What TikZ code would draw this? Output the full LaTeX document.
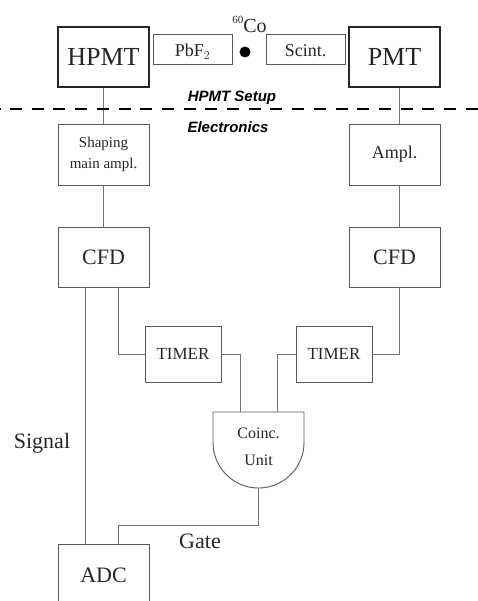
\documentclass[tikz,border=0pt]{standalone}
\usepackage{fontspec}
\setmainfont{Liberation Serif}
\newfontfamily\hsans{Liberation Sans}
\begin{document}
\begin{tikzpicture}[x=1pt,y=-1pt,
  box/.style={draw=black!65,line width=0.9pt,rectangle,inner sep=0pt,align=center,text=black!85},
  bigbox/.style={box,draw=black!85,line width=1.6pt},
  crystal/.style={box,minimum width=79pt,minimum height=30pt,text height=16pt,text depth=1pt,font=\fontsize{18}{18}\selectfont},
  wire/.style={draw=black!55,line width=1pt},
  lbl/.style={inner sep=0pt,text=black!85},
  sect/.style={inner sep=0pt,font=\hsans\bfseries\itshape\fontsize{15}{15}\selectfont}]
\useasboundingbox (0,0) rectangle (478,601);

% top row
\node[bigbox,minimum width=91pt,minimum height=60pt,font=\fontsize{26}{26}\selectfont] (hpmt) at (103.5,57) {HPMT};
\node[crystal] (pbf) at (192.5,49) {PbF$_2$};
\node[circle,fill=black,inner sep=0pt,minimum size=11pt] (src) at (245,52) {};
\node[lbl,font=\fontsize{20}{20}\selectfont] (co) at (249.5,24) {\raisebox{0.45em}{\fontsize{11}{11}\selectfont 60}Co};
\node[crystal] (scint) at (305.5,49) {Scint.};
\node[bigbox,minimum width=91pt,minimum height=60pt,font=\fontsize{26}{26}\selectfont] (pmt) at (394.5,57) {PMT};

% separator
\node[sect] (setup) at (232,98) {HPMT Setup};
\node[sect] (elec) at (228,127) {Electronics};
\coordinate (dl) at (0,109);
\coordinate (dr) at (478,109);

% electronics
\node[box,minimum width=91pt,minimum height=61pt,font=\fontsize{15}{21}\selectfont] (shape) at (103.5,154.5) {Shaping\\main ampl.};
\node[box,minimum width=91pt,minimum height=61pt,font=\fontsize{18}{18}\selectfont] (ampl) at (394.5,154.5) {Ampl.};
\node[box,minimum width=91pt,minimum height=60pt,font=\fontsize{22}{22}\selectfont] (cfdl) at (103.5,257) {CFD};
\node[box,minimum width=91pt,minimum height=60pt,font=\fontsize{22}{22}\selectfont] (cfdr) at (394.5,257) {CFD};
\node[box,minimum width=76pt,minimum height=56pt,font=\fontsize{17}{17}\selectfont] (tl) at (183,354) {TIMER};
\node[box,minimum width=76pt,minimum height=56pt,font=\fontsize{17}{17}\selectfont] (tr) at (334,354) {TIMER};

% coincidence unit
\draw[draw=black!65,line width=0.9pt] (213,412) -- (304,412) -- (304,442.5) arc (0:-180:45.5pt) -- cycle;
\node[lbl,align=center,font=\fontsize{16}{27}\selectfont] (coinc) at (258.5,447) {Coinc.\\Unit};
\coordinate (cin) at (258.5,412);
\coordinate (cout) at (258.5,488);

\node[box,minimum width=91pt,minimum height=62pt,font=\fontsize{22}{22}\selectfont] (adc) at (103.5,575) {ADC};
\node[lbl,font=\fontsize{22}{22}\selectfont] (sig) at (42,443) {Signal};
\node[lbl,font=\fontsize{22}{22}\selectfont] (gate) at (200,541) {Gate};

% connectors
\draw[wire] (hpmt) -- (shape);
\draw[wire] ([xshift=4.5pt]pmt.south) -- ([xshift=4.5pt]ampl.north);
\draw[wire] (shape) -- (cfdl);
\draw[wire] ([xshift=4.5pt]ampl.south) -- ([xshift=4.5pt]cfdr.north);
\draw[wire] ([xshift=-18.5pt]cfdl.south) -- ([xshift=-18.5pt]adc.north);
\draw[wire] ([xshift=14.5pt]cfdl.south) |- (tl.west);
\draw[wire] ([xshift=4.5pt]cfdr.south) |- (tr.east);
\draw[wire] (tl.east) -| ([xshift=-18.5pt]cin);
\draw[wire] (tr.west) -| ([xshift=18.5pt]cin);
\draw[wire] (cout) -- ++(0,37) -| ([xshift=14.5pt]adc.north);

\draw[line width=2.6pt,dash pattern=on 12pt off 9.7pt,dash phase=11.7pt] (dl) -- (dr);
\end{tikzpicture}
\end{document}
